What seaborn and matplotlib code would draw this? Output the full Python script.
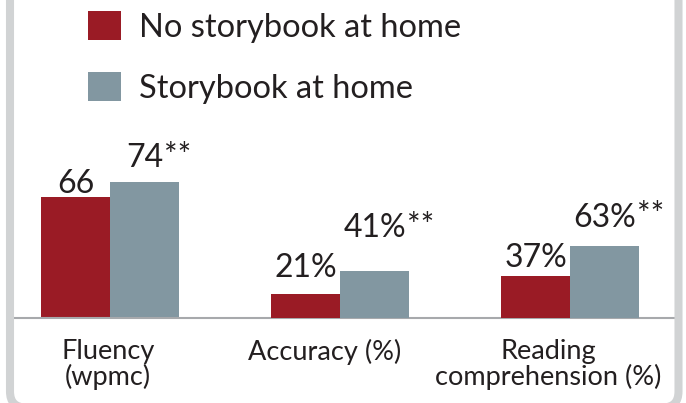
import matplotlib
matplotlib.use("Agg")
import matplotlib.pyplot as plt
import pandas as pd
import seaborn as sns
from matplotlib.patches import FancyBboxPatch

# --- data -----------------------------------------------------------------
measures = ["Fluency\n(wpmc)", "Accuracy (%)", "Reading\ncomprehension (%)"]
groups = ["No storybook at home", "Storybook at home"]
no_storybook = [66, 21, 37]
storybook = [74, 41, 63]
value_suffix = ["", "%", "%"]
storybook_marks = ["**", "**", "**"]

df = pd.DataFrame({
    "measure": measures * 2,
    "group": [groups[0]] * len(measures) + [groups[1]] * len(measures),
    "value": no_storybook + storybook,
})

# --- style ----------------------------------------------------------------
sns.set_theme(style="white")
plt.rcParams["font.family"] = ["Lato", "DejaVu Sans"]
INK = "#231f20"
AXIS_GREY = "#a7a9ac"
FRAME_GREY = "#d1d3d4"
palette = {groups[0]: "#9a1b25", groups[1]: "#8297a1"}

W, H = 686, 403
fig = plt.figure(figsize=(W / 100, H / 100), dpi=100)
fig.patch.set_facecolor("white")

# fluency (words per minute) and the percentage measures use separate y scales
rect = [15 / W, 85 / H, 659 / W, 198 / H]
ax_wpm = fig.add_axes(rect)
ax_pct = fig.add_axes(rect, facecolor="none")

common = dict(x="measure", y="value", hue="group", order=measures,
              hue_order=groups, palette=palette, width=0.6, saturation=1,
              linewidth=0, errorbar=None)
sns.barplot(data=df[df["measure"] == measures[0]], ax=ax_wpm, **common)
sns.barplot(data=df[df["measure"] != measures[0]], ax=ax_pct, legend=False,
            **common)

handles, labels = ax_wpm.get_legend_handles_labels()
ax_wpm.get_legend().remove()

axis_px = 198
ax_wpm.set_ylim(0, axis_px / 1.839)
ax_pct.set_ylim(0, axis_px / 1.147)

for ax in (ax_wpm, ax_pct):
    ax.set_xlim(-0.414, 2.451)
    ax.set_xlabel("")
    ax.set_ylabel("")
    ax.yaxis.set_visible(False)
    ax.tick_params(axis="x", length=0, labelbottom=False)
    for side in ("left", "right", "top", "bottom"):
        ax.spines[side].set_visible(False)

ax_wpm.spines["bottom"].set_visible(True)
ax_wpm.spines["bottom"].set_color(AXIS_GREY)
ax_wpm.spines["bottom"].set_linewidth(1.5)

# category names under the axis, nudged sideways (px) to sit under each pair
name_shift = [-2, -16, -22]
for i, name in enumerate(measures):
    ax_wpm.annotate(name, xy=(i, 0), xycoords=ax_wpm.get_xaxis_transform(),
                    xytext=(name_shift[i] * 0.72, -15),
                    textcoords="offset points", ha="center", va="top",
                    fontsize=19.5, linespacing=1.0, color=INK)

# value labels: gap (px) between each bar top and the label baseline
label_gap = {(0, 0): 4, (0, 1): 15, (1, 0): 17, (1, 1): 34, (2, 0): 9, (2, 1): 19}
for ax in (ax_wpm, ax_pct):
    for container in ax.containers:
        for bar in container:
            cx = bar.get_x() + bar.get_width() / 2
            cat = int(round(cx))
            hue_idx = 0 if cx < cat else 1
            h = bar.get_height()
            num = ax.annotate(f"{h:.0f}{value_suffix[cat]}", xy=(cx, h),
                              xytext=(0, label_gap[(cat, hue_idx)] * 0.72),
                              textcoords="offset points", ha="center",
                              va="baseline", fontsize=23, color=INK)
            if hue_idx == 1 and storybook_marks[cat]:
                ax.annotate(storybook_marks[cat], xy=(1, 0), xycoords=num,
                            xytext=(0.5, 1), textcoords="offset points",
                            ha="left", va="bottom", fontsize=23,
                            color=INK)

fig.legend(handles, labels, loc="upper left",
           bbox_to_anchor=(88 / W, 1 - 11 / H), frameon=False, borderpad=0,
           borderaxespad=0, fontsize=23.5, handlelength=1.0, handleheight=1.0,
           handletextpad=0.55, labelspacing=0.9, labelcolor=INK)

# rounded panel border
frame = FancyBboxPatch((0.10, -0.045), 6.685, 4.4,
                       boxstyle="round,pad=0,rounding_size=0.16",
                       transform=fig.dpi_scale_trans, fill=False,
                       edgecolor=FRAME_GREY, linewidth=5.8, clip_on=False)
fig.add_artist(frame)

fig.savefig("out.png", dpi=100)
